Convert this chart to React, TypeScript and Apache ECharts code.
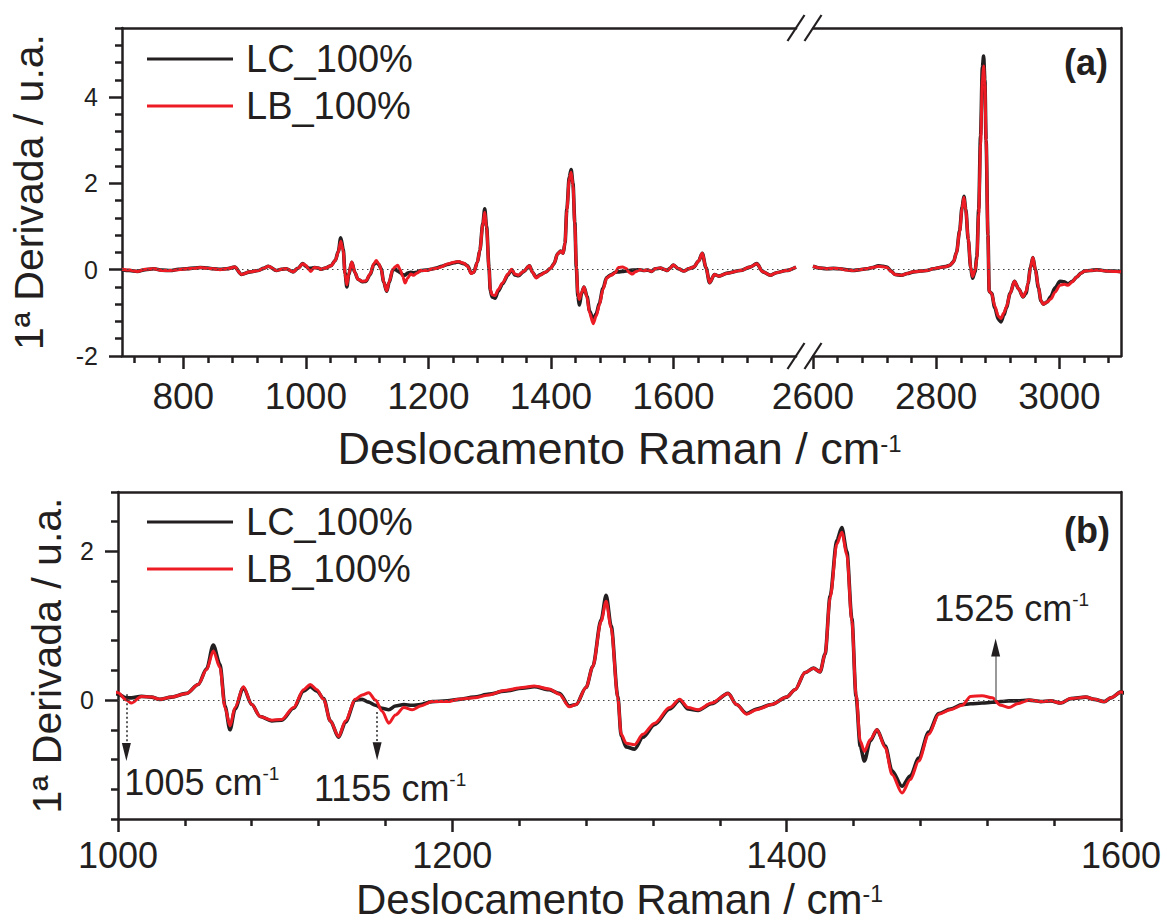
import React, { useEffect, useRef } from 'react';
import * as echarts from 'echarts';

const FONT = "'Liberation Sans', Arial, Helvetica, sans-serif";
const INK = '#231f20';
const RED = '#ed1c24';

// Raman shift (cm-1), fingerprint region 700–1800
const shiftLow = [700, 712, 725, 738, 752, 765, 779, 792, 806, 818, 828, 840, 849, 860, 871, 884, 895, 909, 922, 931, 939, 952, 960, 968, 979, 987, 995, 1000, 1005, 1008, 1014, 1020, 1025, 1032, 1041, 1048, 1053, 1057, 1061, 1064, 1067, 1070, 1075, 1080, 1085, 1092, 1098, 1105, 1111, 1115, 1119, 1123, 1127, 1132, 1136, 1142, 1146, 1150, 1154, 1158, 1162, 1166, 1171, 1176, 1181, 1188, 1197, 1204, 1213, 1222, 1231, 1242, 1249, 1258, 1264, 1270, 1274, 1280, 1284, 1289, 1292, 1295, 1299, 1301, 1304, 1309, 1314, 1321, 1330, 1336, 1341, 1347, 1355, 1365, 1370, 1376, 1382, 1391, 1400, 1405, 1411, 1416, 1420, 1423, 1426, 1430, 1433, 1436, 1439, 1441.5, 1444, 1446.5, 1450, 1454, 1459, 1463, 1469, 1474, 1479, 1485, 1491, 1498, 1505, 1510, 1517, 1523, 1528, 1533, 1538, 1545, 1552, 1558, 1564, 1570, 1579, 1584, 1590, 1594, 1600, 1608, 1617, 1625, 1633, 1641, 1647, 1653, 1659, 1667, 1674, 1688, 1709, 1725, 1736, 1746, 1758, 1768, 1784, 1800];
// first derivative, LC_100%
const lcLow = [0.0, -0.02, -0.04, 0.0, 0.02, -0.01, -0.02, 0.01, 0.02, 0.04, 0.05, 0.04, 0.02, 0.01, 0.02, 0.06, -0.11, -0.05, -0.02, 0.03, 0.08, -0.02, 0.01, 0.02, -0.05, 0.03, 0.14, 0.08, 0.03, 0.03, 0.05, 0.04, 0.01, 0.04, 0.09, 0.21, 0.42, 0.74, 0.48, -0.08, -0.4, -0.12, 0.17, -0.06, -0.22, -0.28, -0.27, -0.11, 0.12, 0.18, 0.12, 0.02, -0.28, -0.5, -0.3, 0.0, 0.01, -0.03, -0.07, -0.11, -0.13, -0.08, -0.06, -0.07, -0.06, -0.02, -0.01, 0.01, 0.04, 0.08, 0.12, 0.16, 0.18, 0.14, 0.09, -0.08, -0.06, 0.17, 0.45, 1.08, 1.41, 1.0, 0.05, -0.48, -0.63, -0.66, -0.5, -0.33, -0.12, 0.0, -0.12, -0.14, -0.05, 0.09, -0.06, -0.18, -0.12, -0.06, 0.04, 0.14, 0.37, 0.43, 0.38, 0.62, 1.4, 2.15, 2.32, 2.0, 1.1, 0.05, -0.62, -0.82, -0.55, -0.4, -0.62, -0.95, -1.16, -1.02, -0.78, -0.43, -0.18, -0.12, -0.06, -0.05, -0.04, -0.03, -0.02, -0.01, -0.01, 0.0, -0.02, -0.01, -0.04, 0.02, 0.04, 0.01, -0.02, 0.03, 0.11, 0.02, -0.03, 0.02, 0.06, 0.2, 0.38, 0.05, -0.3, -0.11, -0.15, -0.08, -0.02, 0.06, 0.14, -0.05, -0.13, -0.07, -0.02, 0.06];
// first derivative, LB_100%
const lbLow = [0.01, -0.01, -0.04, 0.01, 0.02, -0.02, -0.02, 0.0, 0.02, 0.03, 0.05, 0.03, 0.02, 0.0, 0.02, 0.06, -0.11, -0.05, -0.02, 0.03, 0.08, -0.02, 0.01, 0.02, -0.05, 0.03, 0.14, 0.1, 0.0, -0.04, 0.05, 0.04, 0.01, 0.04, 0.09, 0.21, 0.41, 0.66, 0.44, -0.1, -0.35, -0.1, 0.18, -0.06, -0.22, -0.27, -0.26, -0.1, 0.14, 0.21, 0.14, 0.01, -0.28, -0.49, -0.28, 0.01, 0.07, 0.1, 0.0, -0.15, -0.31, -0.2, -0.1, -0.13, -0.08, -0.02, -0.02, 0.01, 0.03, 0.07, 0.13, 0.17, 0.19, 0.15, 0.08, -0.09, -0.06, 0.17, 0.45, 1.06, 1.33, 0.97, 0.03, -0.46, -0.58, -0.6, -0.46, -0.31, -0.1, 0.01, -0.1, -0.13, -0.04, 0.09, -0.06, -0.19, -0.13, -0.06, 0.04, 0.14, 0.37, 0.43, 0.38, 0.62, 1.38, 2.1, 2.26, 1.96, 1.06, 0.08, -0.55, -0.69, -0.53, -0.4, -0.64, -1.0, -1.25, -1.07, -0.82, -0.46, -0.19, -0.13, -0.07, 0.05, 0.06, 0.03, -0.07, -0.1, -0.05, 0.0, -0.02, -0.01, -0.04, 0.02, 0.04, 0.01, -0.02, 0.03, 0.11, 0.02, -0.03, 0.02, 0.06, 0.2, 0.38, 0.05, -0.3, -0.11, -0.15, -0.08, -0.02, 0.06, 0.14, -0.05, -0.13, -0.07, -0.02, 0.06];

// Raman shift (cm-1), C–H stretching region 2600–3100
const shiftHigh = [2600, 2611, 2622, 2633, 2644, 2655, 2665, 2676, 2687, 2697, 2706, 2714, 2720, 2727, 2733, 2744, 2753, 2763, 2775, 2785, 2795, 2806, 2815, 2822, 2828, 2833, 2838, 2842, 2845, 2848, 2852, 2856, 2859, 2863, 2866, 2869, 2872, 2875, 2877, 2879, 2881, 2884, 2886, 2890, 2895, 2901, 2905, 2910, 2914, 2920, 2927, 2934, 2941, 2946, 2949, 2953, 2957, 2961, 2966, 2970, 2974, 2980, 2986, 2993, 3001, 3008, 3014, 3021, 3028, 3035, 3041, 3050, 3061, 3070, 3077, 3090, 3100];
const lcHigh = [0.08, 0.04, 0.02, 0.03, 0.02, 0.0, -0.02, 0.0, 0.02, 0.05, 0.09, 0.08, 0.06, -0.03, -0.11, -0.13, -0.09, -0.05, -0.03, -0.02, 0.02, 0.05, 0.07, 0.1, 0.18, 0.4, 0.9, 1.45, 1.7, 1.4, 0.7, 0.05, -0.2, -0.05, 0.3, 1.4, 3.1, 4.7, 4.95, 4.4, 3.0, 0.8, -0.5, -0.55, -0.88, -1.15, -1.21, -1.05, -0.88, -0.55, -0.27, -0.45, -0.63, -0.55, -0.32, 0.05, 0.28, 0.0, -0.42, -0.72, -0.8, -0.75, -0.62, -0.42, -0.27, -0.28, -0.33, -0.27, -0.17, -0.08, -0.03, -0.02, 0.0, -0.02, -0.03, -0.03, -0.05];
const lbHigh = [0.08, 0.04, 0.02, 0.03, 0.02, -0.01, -0.02, 0.0, 0.02, 0.05, 0.08, 0.07, 0.05, -0.04, -0.11, -0.13, -0.09, -0.05, -0.03, -0.02, 0.02, 0.05, 0.07, 0.1, 0.18, 0.4, 0.88, 1.42, 1.68, 1.38, 0.72, 0.05, -0.16, -0.02, 0.25, 1.3, 2.9, 4.4, 4.72, 4.3, 3.0, 0.8, -0.5, -0.55, -0.84, -1.08, -1.13, -1.0, -0.86, -0.55, -0.27, -0.45, -0.63, -0.5, -0.32, 0.05, 0.28, 0.0, -0.4, -0.72, -0.8, -0.75, -0.68, -0.52, -0.36, -0.34, -0.36, -0.28, -0.17, -0.08, -0.03, -0.02, -0.01, -0.02, -0.03, -0.04, -0.05];

// axis ticks
const xLowMajor = [800, 1000, 1200, 1400, 1600];
const xLowMinor = [720, 760, 840, 880, 920, 960, 1040, 1080, 1120, 1160, 1240, 1280, 1320, 1360, 1440, 1480, 1520, 1560, 1640, 1680, 1720, 1760];
const xHighMajor = [2600, 2800, 3000];
const xHighMinor = [2640, 2680, 2720, 2760, 2840, 2880, 2920, 2960, 3040, 3080];
const xZoomMajor = [1000, 1200, 1400, 1600];
const xZoomMinor = [1040, 1080, 1120, 1160, 1240, 1280, 1320, 1360, 1440, 1480, 1520, 1560];
const yFullMajor = [-2, 0, 2, 4];
const yFullMinor = [-1.6, -1.2, -0.8, -0.4, 0.4, 0.8, 1.2, 1.6, 2.4, 2.8, 3.2, 3.6, 4.4, 4.8, 5.2, 5.6];
const yZoomMajor = [0, 2];
const yZoomMinor = [-1.6, -1.2, -0.8, -0.4, 0.4, 0.8, 1.2, 1.6, 2.4, 2.8];

// marked bands in panel (b): position, arrow start and arrow tip
const markShift = [1005, 1155, 1525];
const markFrom = [0.08, -0.16, 0.0];
const markTip = [-0.82, -0.81, 0.83];

const NAME_LC = 'LC_100%';
const NAME_LB = 'LB_100%';

// layout (px)
const A_TOP = 28, A_H = 328;
const B_TOP = 492, B_H = 327;
const LEFT = 118, RIGHT = 1121;
const SEG1_RIGHT = 796, SEG2_LEFT = 813;
const MAJOR_LEN = 13, MINOR_LEN = 7, LW = 2.5;

const pairs = (xs: number[], ys: number[]) => xs.map((x, i) => [x, ys[i]]);
const plain = (v: number) => String(v);

const lineAxis = { show: true, onZero: false, lineStyle: { color: INK, width: LW } };
const noAxis = { show: false, onZero: false };
const tickStyle = { color: INK, width: LW };

function mainX(grid: number, min: number, max: number, ticks: number[], margin: number, fontSize: number) {
  return {
    type: 'value', gridIndex: grid, position: 'bottom', min, max,
    axisLine: lineAxis,
    axisTick: { show: true, length: MAJOR_LEN, lineStyle: tickStyle, customValues: ticks },
    axisLabel: {
      show: true, customValues: ticks, formatter: plain, margin,
      fontSize, lineHeight: 30, fontFamily: FONT, color: INK,
    },
    splitLine: { show: false },
  };
}
function minorX(grid: number, min: number, max: number, ticks: number[]) {
  return {
    type: 'value', gridIndex: grid, position: 'bottom', min, max,
    axisLine: noAxis,
    axisTick: { show: true, length: MINOR_LEN, lineStyle: tickStyle, customValues: ticks },
    axisLabel: { show: false },
    splitLine: { show: false },
  };
}
function topX(grid: number, min: number, max: number) {
  return {
    type: 'value', gridIndex: grid, position: 'top', min, max,
    axisLine: lineAxis, axisTick: { show: false }, axisLabel: { show: false }, splitLine: { show: false },
  };
}
function mainY(grid: number, min: number, max: number, ticks: number[], nameGap: number) {
  return {
    type: 'value', gridIndex: grid, position: 'left', min, max,
    axisLine: lineAxis,
    axisTick: { show: true, length: MAJOR_LEN, lineStyle: tickStyle, customValues: ticks },
    axisLabel: { show: true, customValues: ticks, formatter: plain, margin: 24, fontSize: 25, fontFamily: FONT, color: INK },
    splitLine: { show: false },
    name: '1ª Derivada / u.a.', nameLocation: 'middle', nameRotate: 90, nameGap,
    nameTextStyle: { fontSize: 41, fontFamily: FONT, color: INK },
  };
}
function minorY(grid: number, min: number, max: number, ticks: number[]) {
  return {
    type: 'value', gridIndex: grid, position: 'left', min, max,
    axisLine: noAxis,
    axisTick: { show: true, length: MINOR_LEN, lineStyle: tickStyle, customValues: ticks },
    axisLabel: { show: false }, splitLine: { show: false },
  };
}
function rightY(grid: number, min: number, max: number) {
  return {
    type: 'value', gridIndex: grid, position: 'right', min, max,
    axisLine: lineAxis, axisTick: { show: false }, axisLabel: { show: false }, splitLine: { show: false },
  };
}

const zeroLine = {
  silent: true, symbol: ['none', 'none'], label: { show: false },
  lineStyle: { color: '#444', width: 1.2, type: [1.5, 3.5] },
  data: [{ yAxis: 0 }],
};

function spectrum(name: string, color: string, width: number, data: number[][], xi: number, yi: number, extra: any = {}) {
  return {
    type: 'line', name, data, xAxisIndex: xi, yAxisIndex: yi,
    showSymbol: false, symbol: 'none', smooth: 0.3, smoothMonotone: 'x',
    color, lineStyle: { color, width }, emphasis: { disabled: true },
    ...extra,
  };
}

const HEAD_OFFSET = 0.121; // half of the arrow head height in data units (panel b)

const arrowShafts = {
  silent: true, symbol: ['none', 'none'], label: { show: false },
  data: markShift.map((s, i) => {
    const up = markTip[i] > markFrom[i];
    const end = markTip[i] + (up ? -HEAD_OFFSET : HEAD_OFFSET);
    return [
      { coord: [s, markFrom[i]], lineStyle: up ? { color: '#808080', width: 1.6, type: 'solid' } : { color: '#333', width: 1.6, type: [2, 2.5] } },
      { coord: [s, end] },
    ];
  }),
};
const arrowHeads = {
  silent: true, label: { show: false },
  data: markShift.map((s, i) => {
    const up = markTip[i] > markFrom[i];
    return {
      coord: [s, markTip[i] + (up ? -HEAD_OFFSET : HEAD_OFFSET)],
      symbol: 'triangle', symbolSize: [9, 18], symbolRotate: up ? 0 : 180,
      itemStyle: { color: INK },
    };
  }),
};

function legendAt(top: number) {
  return {
    orient: 'vertical', left: 147, top, padding: 0, itemWidth: 86, itemHeight: 3, itemGap: 9,
    icon: 'rect', selectedMode: false,
    textStyle: { fontFamily: FONT, fontSize: 38, color: INK, lineHeight: 38, padding: [0, 0, 0, 8] },
    data: [NAME_LC, NAME_LB],
  };
}

const supRich = (main: number, sup: number, mainLine = main) => ({
  m: { fontSize: main, fontFamily: FONT, fill: INK, lineHeight: mainLine },
  s: { fontSize: sup, fontFamily: FONT, fill: INK, verticalAlign: 'top', lineHeight: sup },
});

function slash(cx: number, cy: number) {
  return {
    type: 'line', silent: true, z: 100,
    shape: { x1: cx - 8.5, y1: cy + 13, x2: cx + 8.5, y2: cy - 13 },
    style: { stroke: INK, lineWidth: 2.2 },
  };
}

const option: any = {
  animation: false,
  backgroundColor: '#fff',
  grid: [
    { left: LEFT, top: A_TOP, width: SEG1_RIGHT - LEFT, height: A_H },
    { left: SEG2_LEFT, top: A_TOP, width: RIGHT - SEG2_LEFT, height: A_H },
    { left: LEFT, top: B_TOP, width: RIGHT - LEFT, height: B_H },
  ],
  xAxis: [
    mainX(0, 700, 1800, xLowMajor, 25, 37),
    minorX(0, 700, 1800, xLowMinor),
    topX(0, 700, 1800),
    mainX(1, 2600, 3100, xHighMajor, 25, 37),
    minorX(1, 2600, 3100, xHighMinor),
    topX(1, 2600, 3100),
    mainX(2, 1000, 1600, xZoomMajor, 21.5, 36),
    minorX(2, 1000, 1600, xZoomMinor),
    topX(2, 1000, 1600),
  ],
  yAxis: [
    mainY(0, -2, 5.6, yFullMajor, 73),
    minorY(0, -2, 5.6, yFullMinor),
    rightY(1, -2, 5.6),
    mainY(2, -1.6, 2.8, yZoomMajor, 51),
    minorY(2, -1.6, 2.8, yZoomMinor),
    rightY(2, -1.6, 2.8),
  ],
  legend: [legendAt(40), legendAt(503)],
  series: [
    spectrum(NAME_LC, INK, 3.6, pairs(shiftLow, lcLow), 0, 0, { markLine: zeroLine }),
    spectrum(NAME_LC, INK, 3.6, pairs(shiftHigh, lcHigh), 3, 2, { markLine: zeroLine }),
    spectrum(NAME_LC, INK, 3.6, pairs(shiftLow, lcLow), 6, 3, { markLine: zeroLine }),
    spectrum(NAME_LB, RED, 3, pairs(shiftLow, lbLow), 0, 0),
    spectrum(NAME_LB, RED, 3, pairs(shiftHigh, lbHigh), 3, 2),
    spectrum(NAME_LB, RED, 3, pairs(shiftLow, lbLow), 6, 3, { markLine: arrowShafts, markPoint: arrowHeads }),
  ],
};

export default function App() {
  const ref = useRef<HTMLDivElement>(null);
  useEffect(() => {
    const el = ref.current;
    if (!el) return;
    const chart = echarts.init(el, undefined, { renderer: 'svg' });
    chart.setOption(option);

    const at = (s: number, v: number) => chart.convertToPixel({ gridIndex: 2 }, [s, v]) as number[];
    const p0 = at(markShift[0], markTip[0]);
    const p1 = at(markShift[1], markTip[1]);
    const p2 = at(markShift[2], markTip[2]);
    const bandText = (s: number) => `{m|${s} cm}{s|-1}`;
    const axisTitle = '{m|Deslocamento Raman / cm}{s|-1}';

    const graphic: any[] = [
      slash(SEG1_RIGHT, A_TOP), slash(SEG2_LEFT, A_TOP),
      slash(SEG1_RIGHT, A_TOP + A_H), slash(SEG2_LEFT, A_TOP + A_H),
      {
        type: 'text', x: 1108, y: 62,
        style: { text: '(a)', font: `bold 36px ${FONT}`, fill: INK, align: 'right', verticalAlign: 'middle' },
      },
      {
        type: 'text', x: 1110, y: 530,
        style: { text: '(b)', font: `bold 36px ${FONT}`, fill: INK, align: 'right', verticalAlign: 'middle' },
      },
      {
        type: 'text', x: (LEFT + RIGHT) / 2, y: 448,
        style: { text: axisTitle, rich: supRich(45, 24, 34), align: 'center', verticalAlign: 'middle' },
      },
      {
        type: 'text', x: (LEFT + RIGHT) / 2, y: 899.5,
        style: { text: axisTitle, rich: supRich(42, 23, 34), align: 'center', verticalAlign: 'middle' },
      },
      {
        type: 'text', x: p0[0] - 2, y: p0[1] + 21,
        style: { text: bandText(markShift[0]), rich: supRich(36, 19), align: 'left', verticalAlign: 'middle' },
      },
      {
        type: 'text', x: p1[0] + 13, y: p1[1] + 28,
        style: { text: bandText(markShift[1]), rich: supRich(36, 19), align: 'center', verticalAlign: 'middle' },
      },
      {
        type: 'text', x: p2[0] + 16, y: p2[1] - 30,
        style: { text: bandText(markShift[2]), rich: supRich(36, 19), align: 'center', verticalAlign: 'middle' },
      },
    ];
    chart.setOption({ graphic });
    return () => chart.dispose();
  }, []);
  return (
    <div
      ref={ref}
      style={{ position: 'absolute', left: 0, top: 0, width: 1167, height: 922, background: '#fff' }}
    />
  );
}
